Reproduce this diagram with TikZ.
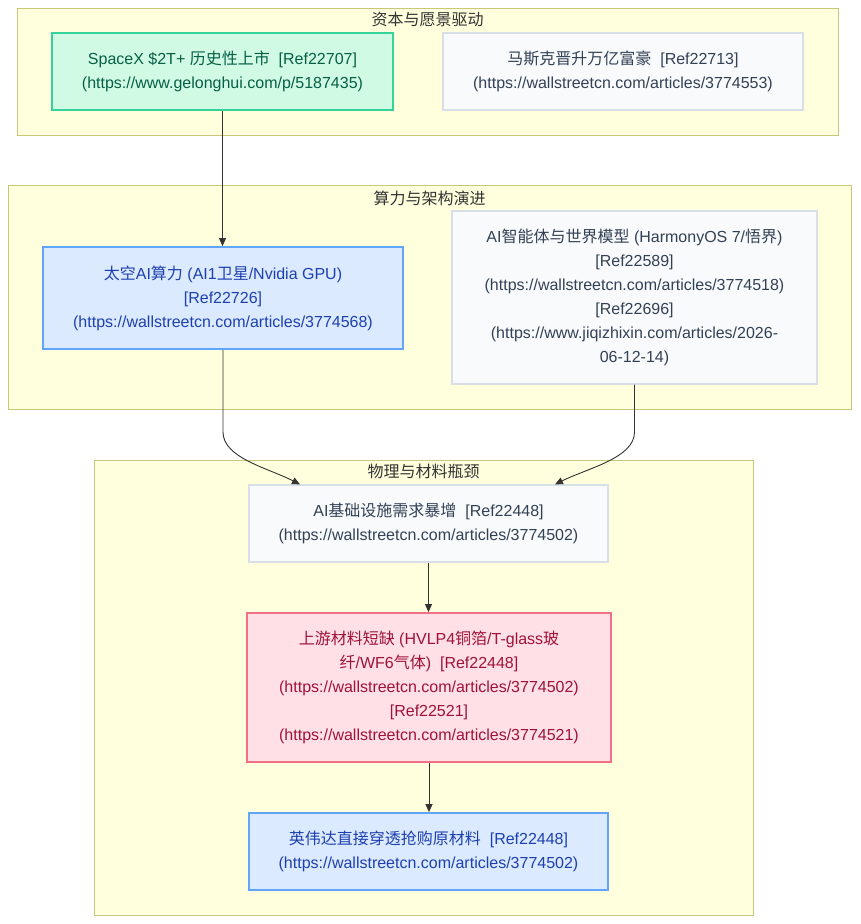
\documentclass[tikz,border=0pt]{standalone}
\usepackage{fontspec}
\setmainfont{Liberation Sans}
\newfontfamily\zhfont{Noto Sans CJK SC}
\newcommand\zh[1]{{\zhfont #1}}
\usetikzlibrary{arrows.meta}
\definecolor{clfill}{HTML}{FFFFDE}
\definecolor{clstroke}{HTML}{C8C878}
\definecolor{cltext}{HTML}{333333}
\definecolor{gfill}{HTML}{D1FAE5}
\definecolor{gstroke}{HTML}{34D399}
\definecolor{gtext}{HTML}{065F46}
\definecolor{nfill}{HTML}{F8FAFC}
\definecolor{nstroke}{HTML}{D9DFE6}
\definecolor{ntext}{HTML}{334155}
\definecolor{bfill}{HTML}{DBEAFE}
\definecolor{bstroke}{HTML}{60A5FA}
\definecolor{btext}{HTML}{1E40AF}
\definecolor{rfill}{HTML}{FFE0E6}
\definecolor{rstroke}{HTML}{F07085}
\definecolor{rtext}{HTML}{9F1239}
\definecolor{edge}{HTML}{333333}
\begin{document}
\begin{tikzpicture}[x=1pt,y=-1pt,
  font=\fontsize{16}{24}\selectfont,
  cluster/.style={rectangle, draw=clstroke, fill=clfill, line width=1pt, inner sep=0pt},
  cltitle/.style={text=cltext, inner sep=0pt, anchor=center},
  box/.style={rectangle, align=center, inner sep=0pt},
  greenbox/.style={box, fill=gfill, draw=gstroke, text=gtext, line width=1.8pt},
  graybox/.style={box, fill=nfill, draw=nstroke, text=ntext, line width=1.2pt},
  bluebox/.style={box, fill=bfill, draw=bstroke, text=btext, line width=1.8pt},
  redbox/.style={box, fill=rfill, draw=rstroke, text=rtext, line width=1.8pt},
  conn/.style={draw=edge, line width=0.9pt, -{Triangle[length=8pt,width=7pt]}}
]
\useasboundingbox (0,0) rectangle (860,924);
\fill[white] (0,0) rectangle (860,924);

% clusters
\node[cluster, minimum width=821, minimum height=127] (c1) at (427.5,71.5) {};
\node[cltitle] (t1) at (427.5,19) {\zh{资本与愿景驱动}};
\node[cluster, minimum width=843, minimum height=224] (c2) at (429.5,297) {};
\node[cltitle] (t2) at (429.5,198) {\zh{算力与架构演进}};
\node[cluster, minimum width=659, minimum height=455] (c3) at (423.5,687.5) {};
\node[cltitle] (t3) at (423.5,471) {\zh{物理与材料瓶颈}};

% nodes
\node[greenbox, minimum width=341, minimum height=77] (sx) at (222.5,71.5)
  {SpaceX \$2T+ \zh{历史性上市}\ \ [Ref22707]\\(https://www.gelonghui.com/p/5187435)};
\node[graybox, minimum width=360, minimum height=77] (musk) at (623,71.5)
  {\zh{马斯克晋升万亿富豪}\ \ [Ref22713]\\(https://wallstreetcn.com/articles/3774553)};
\node[bluebox, minimum width=360, minimum height=102] (ai) at (223,298)
  {\zh{太空}AI\zh{算力} (AI1\zh{卫星}/Nvidia GPU)\\{}[Ref22726]\\(https://wallstreetcn.com/articles/3774568)};
\node[graybox, minimum width=365, minimum height=173] (agent) at (634.5,297.5)
  {AI\zh{智能体与世界模型} (HarmonyOS 7/\zh{悟界})\\{}[Ref22589]\\(https://wallstreetcn.com/articles/3774518)\\{}[Ref22696]\\(https://www.jiqizhixin.com/articles/2026-\\06-12-14)};
\node[graybox, minimum width=359, minimum height=77] (base) at (428.5,523.5)
  {AI\zh{基础设施需求暴增}\ \ [Ref22448]\\(https://wallstreetcn.com/articles/3774502)};
\node[redbox, minimum width=364, minimum height=149] (up) at (429,687.5)
  {\zh{上游材料短缺} (HVLP4\zh{铜箔}/T-glass\zh{玻}\\\zh{纤}/WF6\zh{气体})\ \ [Ref22448]\\(https://wallstreetcn.com/articles/3774502)\\{}[Ref22521]\\(https://wallstreetcn.com/articles/3774521)};
\node[bluebox, minimum width=359, minimum height=77] (nv) at (428.5,851.5)
  {\zh{英伟达直接穿透抢购原材料}\ \ [Ref22448]\\(https://wallstreetcn.com/articles/3774502)};

% connectors
\coordinate (bl) at ([xshift=-128.5pt]base.north);
\coordinate (br) at ([xshift=126.5pt]base.north);
\draw[conn] (sx.south) -- (sx.south |- ai.north);
\draw[conn] (ai.south) -- (223,432) .. controls (223,458) and (268,468) .. (bl);
\draw[conn] (agent.south) -- (634.5,432) .. controls (634.5,458) and (588,468) .. (br);
\draw[conn] (base.south) -- (base.south |- up.north);
\draw[conn] (up.south) -- (up.south |- nv.north);
\end{tikzpicture}
\end{document}
